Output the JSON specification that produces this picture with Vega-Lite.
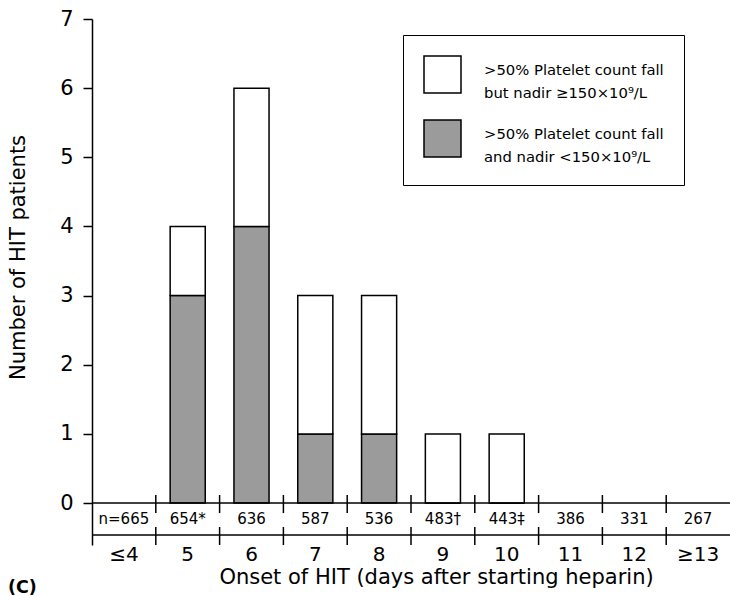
{
  "$schema": "https://vega.github.io/schema/vega-lite/v6.json",
  "width": 638,
  "height": 526,
  "autosize": "none",
  "padding": {"left": 92, "top": 19, "right": 0, "bottom": 51},
  "background": "white",
  "title": {
    "text": "(C)",
    "orient": "bottom",
    "anchor": "start",
    "frame": "group",
    "font": "DejaVu Sans",
    "fontSize": 17.5,
    "fontWeight": "bold",
    "color": "black",
    "dx": -84,
    "dy": -8,
    "offset": 0
  },
  "datasets": {
    "patients": [
      {"day": "5", "group": ">50% Platelet count fall and nadir <150×10⁹/L", "count": 3},
      {"day": "5", "group": ">50% Platelet count fall but nadir ≥150×10⁹/L", "count": 1},
      {"day": "6", "group": ">50% Platelet count fall and nadir <150×10⁹/L", "count": 4},
      {"day": "6", "group": ">50% Platelet count fall but nadir ≥150×10⁹/L", "count": 2},
      {"day": "7", "group": ">50% Platelet count fall and nadir <150×10⁹/L", "count": 1},
      {"day": "7", "group": ">50% Platelet count fall but nadir ≥150×10⁹/L", "count": 2},
      {"day": "8", "group": ">50% Platelet count fall and nadir <150×10⁹/L", "count": 1},
      {"day": "8", "group": ">50% Platelet count fall but nadir ≥150×10⁹/L", "count": 2},
      {"day": "9", "group": ">50% Platelet count fall and nadir <150×10⁹/L", "count": 0},
      {"day": "9", "group": ">50% Platelet count fall but nadir ≥150×10⁹/L", "count": 1},
      {"day": "10", "group": ">50% Platelet count fall and nadir <150×10⁹/L", "count": 0},
      {"day": "10", "group": ">50% Platelet count fall but nadir ≥150×10⁹/L", "count": 1}
    ],
    "atRisk": [
      {"day": "≤4", "n": "n=665"},
      {"day": "5", "n": "654*"},
      {"day": "6", "n": "636"},
      {"day": "7", "n": "587"},
      {"day": "8", "n": "536"},
      {"day": "9", "n": "483†"},
      {"day": "10", "n": "443‡"},
      {"day": "11", "n": "386"},
      {"day": "12", "n": "331"},
      {"day": "≥13", "n": "267"}
    ]
  },
  "layer": [
    {
      "data": {"name": "patients"},
      "mark": {"type": "bar", "stroke": "black", "strokeWidth": 1.5, "width": {"band": 0.55}},
      "encoding": {
        "x": {
          "field": "day",
          "type": "ordinal",
          "scale": {
            "domain": ["≤4", "5", "6", "7", "8", "9", "10", "11", "12", "≥13"],
            "paddingInner": 0,
            "paddingOuter": 0
          },
          "axis": {
            "orient": "bottom",
            "title": "Onset of HIT (days after starting heparin)",
            "domain": false,
            "ticks": false,
            "tickSize": 0,
            "labelAngle": 0,
            "labelPadding": 15,
            "labelBaseline": "alphabetic",
            "labelFontSize": 20,
            "labelFont": "DejaVu Sans",
            "labelColor": "black",
            "titleFont": "DejaVu Sans",
            "titleFontSize": 21,
            "titleFontWeight": "normal",
            "titleColor": "black",
            "titleX": 344,
            "titleY": 38,
            "titleBaseline": "alphabetic",
            "titleAlign": "center"
          }
        },
        "y": {
          "field": "count",
          "type": "quantitative",
          "stack": "zero",
          "scale": {"domain": [-0.607, 7], "nice": false, "zero": false},
          "axis": {
            "title": "Number of HIT patients",
            "values": [0, 1, 2, 3, 4, 5, 6, 7],
            "format": "d",
            "grid": false,
            "tickSize": 9,
            "tickWidth": 1.5,
            "tickColor": "black",
            "domainColor": "black",
            "domainWidth": 1.5,
            "labelPadding": 10,
            "labelFontSize": 21,
            "labelFont": "DejaVu Sans",
            "labelColor": "black",
            "titleFont": "DejaVu Sans",
            "titleFontSize": 21,
            "titleFontWeight": "normal",
            "titleColor": "black",
            "titleX": -68,
            "titleY": 238,
            "titleAngle": -90,
            "titleAlign": "center",
            "titleBaseline": "alphabetic"
          }
        },
        "color": {
          "field": "group",
          "type": "nominal",
          "scale": {
            "domain": [
              ">50% Platelet count fall but nadir ≥150×10⁹/L",
              ">50% Platelet count fall and nadir <150×10⁹/L"
            ],
            "range": ["white", "#9b9b9b"]
          },
          "legend": {
            "title": null,
            "orient": "none",
            "legendX": 311,
            "legendY": 16,
            "direction": "vertical",
            "symbolType": "square",
            "symbolSize": 1369,
            "symbolStrokeColor": "black",
            "symbolStrokeWidth": 1.5,
            "symbolOpacity": 1,
            "labelFont": "DejaVu Sans",
            "labelFontSize": 14.8,
            "labelColor": "black",
            "labelLimit": 300,
            "labelOffset": 22,
            "labelBaseline": "alphabetic",
            "labelExpr": "[slice(datum.label, 0, 24), slice(datum.label, 25)]",
            "rowPadding": 16,
            "padding": 20,
            "strokeColor": "black",
            "fillColor": "white"
          }
        },
        "order": {"field": "group", "sort": "ascending"}
      }
    },
    {
      "data": {"values": [{}]},
      "mark": {"type": "rule", "color": "black", "strokeWidth": 1.5},
      "encoding": {"y": {"datum": 0}}
    },
    {
      "data": {"values": [{}]},
      "mark": {"type": "rule", "color": "black", "strokeWidth": 1.5},
      "encoding": {"y": {"datum": -0.463}}
    },
    {
      "data": {"name": "atRisk"},
      "transform": [{"filter": "datum.day !== '≤4'"}],
      "mark": {"type": "rule", "color": "black", "strokeWidth": 1.5},
      "encoding": {
        "x": {"field": "day", "type": "ordinal", "bandPosition": 0},
        "y": {"datum": 0.116},
        "y2": {"datum": -0.145}
      }
    },
    {
      "data": {"name": "atRisk"},
      "transform": [{"filter": "datum.day !== '≤4'"}],
      "mark": {"type": "rule", "color": "black", "strokeWidth": 1.5},
      "encoding": {
        "x": {"field": "day", "type": "ordinal", "bandPosition": 0},
        "y": {"datum": -0.347},
        "y2": {"datum": -0.607}
      }
    },
    {
      "data": {"name": "atRisk"},
      "mark": {"type": "text", "font": "DejaVu Sans", "fontSize": 15, "color": "black", "baseline": "middle"},
      "encoding": {
        "x": {"field": "day", "type": "ordinal", "bandPosition": 0.5},
        "y": {"datum": -0.231},
        "text": {"field": "n"}
      }
    }
  ],
  "config": {
    "view": {"stroke": null},
    "style": {"guide-label": {"lineHeight": 23}}
  }
}
